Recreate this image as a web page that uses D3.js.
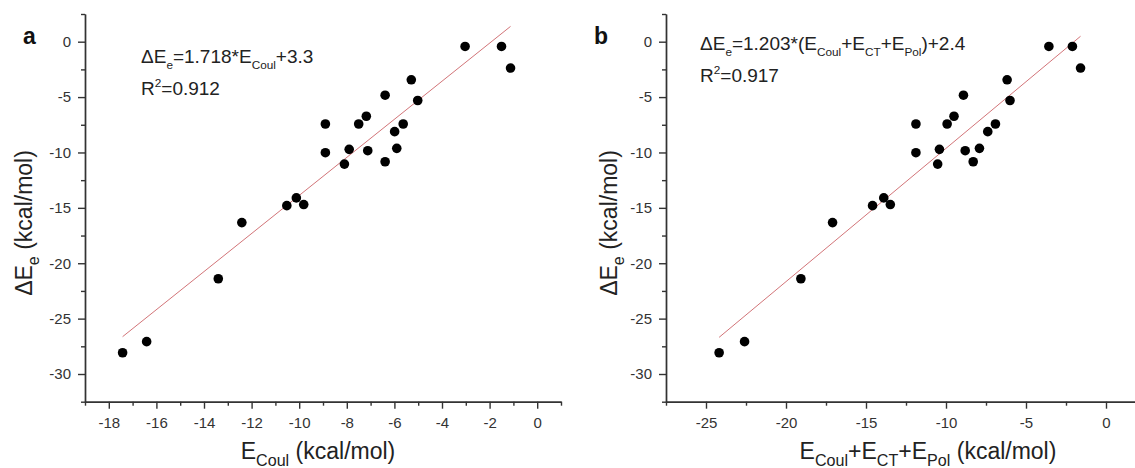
<!DOCTYPE html>
<html>
<head>
<meta charset="utf-8">
<script src="https://cdn.jsdelivr.net/npm/d3@7"></script>
<style>
  body { margin: 0; background: #fff; }
  svg text { font-family: "Liberation Sans", Arial, sans-serif; fill: #222; }
  .axis path, .axis line { stroke: #333; stroke-width: 1.4; }
  .axis text { font-size: 15px; fill: #333; }
</style>
</head>
<body>
<div id="chart"></div>
<script>
//-- Data (shared y values, two x series)
var dEe = [-0.43, -0.43, -2.38, -3.44, -5.31, -4.83, -6.73, -7.43, -7.43, -7.43, -8.12, -9.63,
           -9.72, -9.84, -10.02, -11.05, -10.84, -14.1, -14.8, -14.7, -16.33, -21.4, -27.08, -28.08];
var eCoul = [-3.03, -1.5, -1.12, -5.29, -5.02, -6.39, -7.18, -7.5, -8.9, -5.63, -5.99, -5.9,
             -7.9, -7.12, -8.9, -8.1, -6.39, -10.12, -10.52, -9.81, -12.41, -13.4, -16.41, -17.42];
var eSum = [-3.57, -2.1, -1.59, -6.18, -6.0, -8.91, -9.5, -9.93, -11.88, -6.91, -7.39, -7.91,
            -10.41, -8.8, -11.88, -10.52, -8.3, -13.89, -14.59, -13.48, -17.09, -19.07, -22.59, -24.18];

//-- Fit line end points
var fitA = [[-17.42, -26.63], [-1.12, 1.38]];
var fitB = [[-24.18, -26.69], [-1.59, 0.49]];

//-- Ticks
var yMajor = [-30, -25, -20, -15, -10, -5, 0];
var yMinor = [-32.5, -27.5, -22.5, -17.5, -12.5, -7.5, -2.5, 2.5];
var xMajorA = [-18, -16, -14, -12, -10, -8, -6, -4, -2, 0];
var xMinorA = [-19, -17, -15, -13, -11, -9, -7, -5, -3, -1, 1];
var xMajorB = [-25, -20, -15, -10, -5, 0];
var xMinorB = [-27.5, -22.5, -17.5, -12.5, -7.5, -2.5, 2.5];

var svg = d3.select("#chart")
  .append("svg")
    .attr("width", 1135)
    .attr("height", 468);

//-- Text with sub/superscripts: parts = [[string, 'sub' | 'sup' | null], ...]
function Rich_Text(sel, parts, size, ratio) {
  var t = sel.append("text").style("font-size", size + "px");
  var shift = 0;
  parts.forEach(function (p) {
    var target = 0;
    if (p[1] == 'sub') target = 0.3 * size;
    else if (p[1] == 'sup') target = -0.4 * size;
    t.append("tspan")
      .attr("dy", target - shift)
      .style("font-size", p[1] ? (ratio * size) + "px" : size + "px")
      .text(p[0]);
    shift = target;
  });
  return t;
}

function Make_Panel(wrap) {
  var x = d3.scaleLinear().domain(wrap.xdom).range(wrap.xrange);
  var y = d3.scaleLinear().domain([-32.5, 2.5]).range([401.7, 14]);
  var g = svg.append("g");

  //-- y axis
  g.append("g")
    .attr("class", "axis")
    .attr("transform", "translate(" + wrap.xrange[0] + ",0)")
    .call(d3.axisLeft(y).tickValues(yMajor).tickSize(7).tickSizeOuter(0).tickPadding(7))
    .selectAll("text").text(function (d) {return d;});

  g.append("g")
    .attr("class", "axis")
    .attr("transform", "translate(" + wrap.xrange[0] + ",0)")
    .call(d3.axisLeft(y).tickValues(yMinor).tickSize(4).tickSizeOuter(0).tickFormat(""));

  //-- x axis
  g.append("g")
    .attr("class", "axis")
    .attr("transform", "translate(0,401.7)")
    .call(d3.axisBottom(x).tickValues(wrap.xMajor).tickSize(7).tickSizeOuter(0).tickPadding(9))
    .selectAll("text").text(function (d) {return d;});

  g.append("g")
    .attr("class", "axis")
    .attr("transform", "translate(0,401.7)")
    .call(d3.axisBottom(x).tickValues(wrap.xMinor).tickSize(4).tickSizeOuter(0).tickFormat(""));

  //-- fit line
  g.append("path")
    .datum(wrap.fit)
    .attr("fill", "none")
    .attr("stroke", "#d27478")
    .attr("stroke-width", 1)
    .attr("d", d3.line().x(function (d) {return x(d[0]);}).y(function (d) {return y(d[1]);}));

  //-- points
  g.selectAll(".dot")
    .data(wrap.xs)
    .enter()
    .append("circle")
      .attr("class", "dot")
      .attr("cx", function (d) {return x(d);})
      .attr("cy", function (d, i) {return y(dEe[i]);})
      .attr("r", 4.8)
      .attr("fill", "#000");

  //-- panel letter
  g.append("text")
    .attr("x", wrap.letterX)
    .attr("y", 44)
    .style("font-size", "23px")
    .style("font-weight", "bold")
    .style("fill", "#111")
    .text(wrap.letter);

  //-- y title
  Rich_Text(g, [["\u0394E", null], ["e", "sub"], [" (kcal/mol)", null]], 23, 0.7)
    .attr("text-anchor", "middle")
    .attr("transform", "translate(" + wrap.ytitleX + ",223) rotate(-90)");

  //-- x title
  Rich_Text(g, wrap.xtitle, 23, 0.7)
    .attr("text-anchor", "middle")
    .attr("x", wrap.titleX)
    .attr("y", 459);

  //-- equation
  Rich_Text(g, wrap.eq, 19, 0.62)
    .attr("x", wrap.eqPos[0])
    .attr("y", wrap.eqPos[1]);
  Rich_Text(g, [["R", null], ["2", "sup"], ["=" + wrap.r2, null]], 19, 0.62)
    .attr("x", wrap.eqPos[0])
    .attr("y", wrap.eqPos[1] + 32);
}

var wrapA = {
  letter: "a", letterX: 23, ytitleX: 32, xs: eCoul, fit: fitA, xdom: [-19, 1], xrange: [85, 561],
  xMajor: xMajorA, xMinor: xMinorA, titleX: 318,
  xtitle: [["E", null], ["Coul", "sub"], [" (kcal/mol)", null]],
  eq: [["\u0394E", null], ["e", "sub"], ["=1.718*E", null], ["Coul", "sub"], ["+3.3", null]],
  eqPos: [141, 63], r2: "0.912"
};

var wrapB = {
  letter: "b", letterX: 594, ytitleX: 617, xs: eSum, fit: fitB, xdom: [-27.5, 2.5], xrange: [666, 1146],
  xMajor: xMajorB, xMinor: xMinorB, titleX: 928,
  xtitle: [["E", null], ["Coul", "sub"], ["+E", null], ["CT", "sub"], ["+E", null], ["Pol", "sub"], [" (kcal/mol)", null]],
  eq: [["\u0394E", null], ["e", "sub"], ["=1.203*(E", null], ["Coul", "sub"], ["+E", null], ["CT", "sub"], ["+E", null], ["Pol", "sub"], [")+2.4", null]],
  eqPos: [700, 50], r2: "0.917"
};

Make_Panel(wrapA);
Make_Panel(wrapB);
</script>
</body>
</html>
